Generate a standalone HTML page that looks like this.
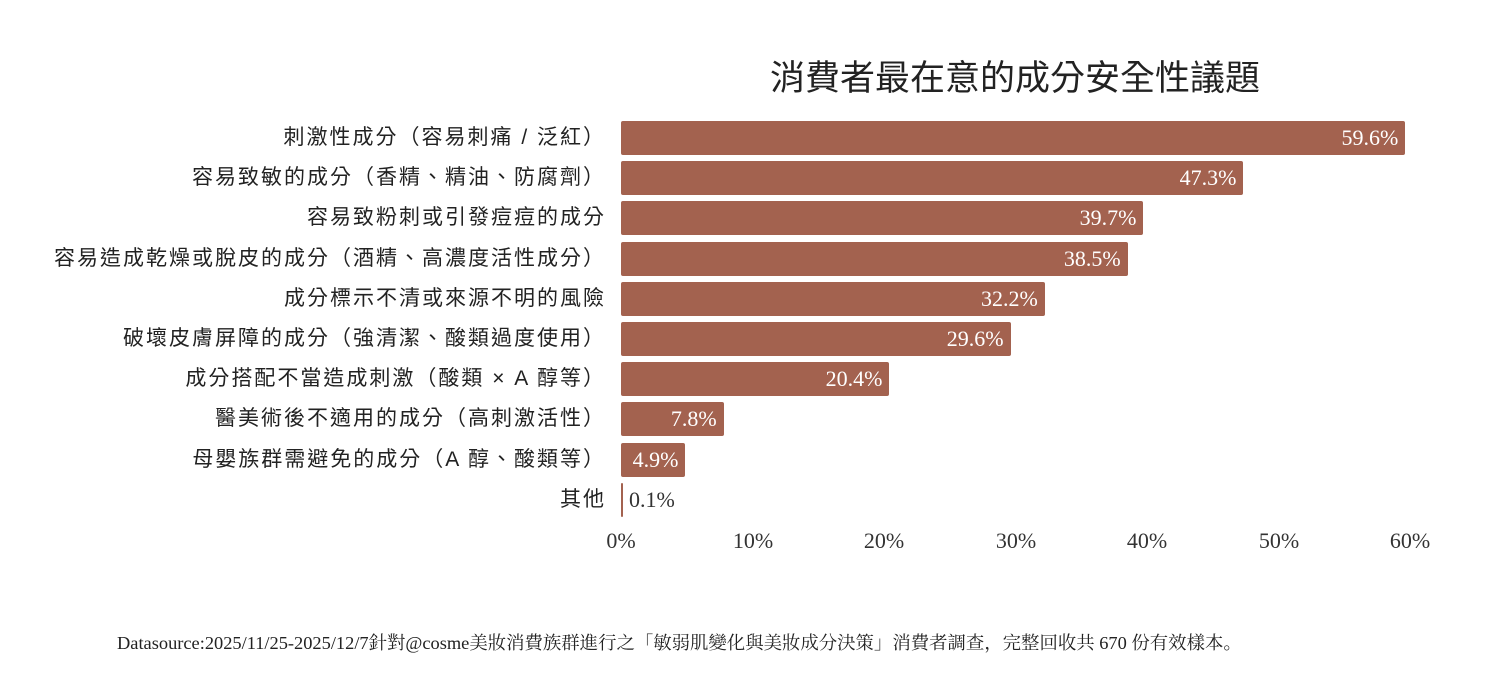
<!DOCTYPE html>
<html><head><meta charset="utf-8"><style>
body{margin:0;width:1499px;height:699px;background:#fff;position:relative;overflow:hidden;font-family:"Liberation Sans","Noto Sans CJK TC",sans-serif}
.t{position:absolute;left:620px;width:790px;top:50px;text-align:center;font-size:35px;color:#222}
.c{position:absolute;right:893px;font-size:21px;letter-spacing:2px;color:#222;white-space:nowrap;line-height:34px}
.b{position:absolute;left:621px;height:34px;background:#a3624f;border-radius:2px}
.v{position:absolute;font-family:"Liberation Serif","Noto Serif CJK SC",serif;font-size:22px;line-height:34px;color:#fff;white-space:nowrap}
.x{position:absolute;top:528px;font-family:"Liberation Serif",serif;font-size:22px;color:#333;transform:translateX(-50%)}
.f{position:absolute;left:117px;top:629px;font-family:"Liberation Serif","Noto Serif CJK SC",serif;font-size:18.4px;color:#222;white-space:nowrap}
</style></head><body>
<div class="t">消費者最在意的成分安全性議題</div>
<div id="g"></div>
<div class="x" style="left:621px">0%</div>
<div class="x" style="left:753px">10%</div>
<div class="x" style="left:884px">20%</div>
<div class="x" style="left:1016px">30%</div>
<div class="x" style="left:1147px">40%</div>
<div class="x" style="left:1279px">50%</div>
<div class="x" style="left:1410px">60%</div>
<div class="f">Datasource:2025/11/25-2025/12/7針對@cosme美妝消費族群進行之「敏弱肌變化與美妝成分決策」消費者調查，完整回收共 670 份有效樣本。</div>
<script>
var d=[["刺激性成分（容易刺痛 / 泛紅）",59.6],["容易致敏的成分（香精、精油、防腐劑）",47.3],["容易致粉刺或引發痘痘的成分",39.7],["容易造成乾燥或脫皮的成分（酒精、高濃度活性成分）",38.5],["成分標示不清或來源不明的風險",32.2],["破壞皮膚屏障的成分（強清潔、酸類過度使用）",29.6],["成分搭配不當造成刺激（酸類 × A 醇等）",20.4],["醫美術後不適用的成分（高刺激活性）",7.8],["母嬰族群需避免的成分（A 醇、酸類等）",4.9],["其他",0.1]];
var h="";
d.forEach(function(r,i){var y=121+i*40.2,w=r[1]*13.16;
h+='<div class="c" style="top:'+y+'px">'+r[0]+'</div>';
h+='<div class="b" style="top:'+y+'px;width:'+Math.max(w,1.5)+'px"></div>';
if(r[1]>1)h+='<div class="v" style="top:'+y+'px;right:'+(1499-621-w+7)+'px">'+r[1].toFixed(1)+'%</div>';
else h+='<div class="v" style="top:'+y+'px;left:629px;color:#333">'+r[1].toFixed(1)+'%</div>';});
document.getElementById("g").innerHTML=h;
</script>
</body></html>
